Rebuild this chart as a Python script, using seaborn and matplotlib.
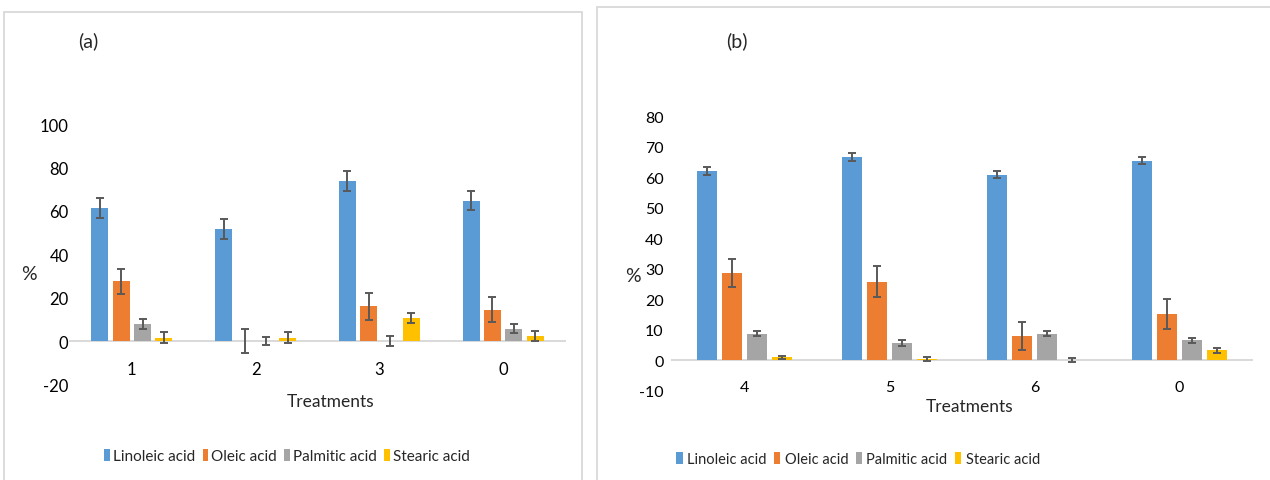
import matplotlib
matplotlib.use("Agg")
import matplotlib.pyplot as plt
from matplotlib.patches import Patch, Rectangle
import pandas as pd
import seaborn as sns

# ---- data ----
acids = ["Linoleic acid", "Oleic acid", "Palmitic acid", "Stearic acid"]
colors = ["#5B9BD5", "#ED7D31", "#A5A5A5", "#FFC000"]

treatments_a = ["1", "2", "3", "0"]
linoleic_a = [61.3, 51.6, 73.9, 64.7]
oleic_a = [27.6, 0.0, 16.0, 14.6]
palmitic_a = [7.9, 0.0, 0.0, 5.8]
stearic_a = [1.6, 1.6, 10.7, 2.5]
linoleic_a_err = [4.5, 4.6, 4.6, 4.4]
oleic_a_err = [5.7, 5.6, 6.0, 5.7]
palmitic_a_err = [2.2, 1.8, 2.3, 2.1]
stearic_a_err = [2.5, 2.5, 2.1, 2.4]

treatments_b = ["4", "5", "6", "0"]
linoleic_b = [62.2, 66.7, 60.9, 65.5]
oleic_b = [28.7, 25.8, 7.9, 15.1]
palmitic_b = [8.7, 5.7, 8.7, 6.5]
stearic_b = [0.9, 0.4, 0.1, 3.2]
linoleic_b_err = [1.3, 1.3, 1.3, 1.3]
oleic_b_err = [4.6, 5.0, 4.7, 4.9]
palmitic_b_err = [0.8, 0.9, 0.9, 0.9]
stearic_b_err = [0.6, 0.6, 0.7, 0.7]

sns.set_style("white")
plt.rcParams["font.family"] = ["Lato", "DejaVu Sans"]

W, H = 1270, 481
fig = plt.figure(figsize=(W / 100, H / 100), dpi=100)


def frac_rect(x0, y0, x1, y1):
    """Pixel box (top-left origin) -> figure fraction rect."""
    return [x0 / W, 1 - y1 / H, (x1 - x0) / W, (y1 - y0) / H]


# panel frames
for x0, y0 in [(4, 12.5), (597, 8)]:
    x1 = 582 if x0 < 100 else W + 10
    fig.patches.append(Rectangle((x0 / W, -0.05), (x1 - x0) / W, 1.05 - y0 / H,
                                 transform=fig.transFigure, fill=False,
                                 edgecolor="#d9d9d9", linewidth=1.3, zorder=0))


def panel(rect, cats, series, errs, ylim, yticks, width, gap, fs, ypad):
    ax = fig.add_axes(rect)
    rows = []
    for acid, vals in zip(acids, series):
        for c, v in zip(cats, vals):
            rows.append({"Treatment": c, "Acid": acid, "Value": v})
    df = pd.DataFrame(rows)
    sns.barplot(data=df, x="Treatment", y="Value", hue="Acid", order=cats,
                hue_order=acids, palette=colors, errorbar=None, width=width,
                gap=gap, legend=False, ax=ax, linewidth=0, saturation=1)
    for cont, e in zip(ax.containers, errs):
        xs = [b.get_x() + b.get_width() / 2 for b in cont]
        ys = [b.get_height() for b in cont]
        ax.errorbar(xs, ys, yerr=e, fmt="none", ecolor="#595959",
                    elinewidth=1.4, capsize=3.2, capthick=1.4, zorder=5)
    ax.set_ylim(*ylim)
    ax.set_xlim(-0.5, len(cats) - 0.5)
    ax.set_yticks(yticks)
    ax.set_yticklabels([str(t) for t in yticks])
    for s in ["top", "right", "left"]:
        ax.spines[s].set_visible(False)
    ax.spines["bottom"].set_position(("data", 0))
    ax.spines["bottom"].set_color("#d9d9d9")
    ax.spines["bottom"].set_linewidth(1.4)
    ax.spines["bottom"].set_zorder(0.5)
    ax.tick_params(axis="x", length=0, pad=14, labelsize=fs, colors="#000000")
    ax.tick_params(axis="y", length=0, pad=ypad, labelsize=fs, colors="#000000")
    ax.set_xlabel("")
    ax.set_ylabel("")
    ax.set_facecolor("none")
    return ax


ax_a = panel(frac_rect(70, 125, 565, 385.7), treatments_a,
             [linoleic_a, oleic_a, palmitic_a, stearic_a],
             [linoleic_a_err, oleic_a_err, palmitic_a_err, stearic_a_err],
             (-20, 100), list(range(-20, 101, 20)), 0.69, 0.2, 12, 1)

ax_b = panel(frac_rect(672, 117.3, 1252, 391.7), treatments_b,
             [linoleic_b, oleic_b, palmitic_b, stearic_b],
             [linoleic_b_err, oleic_b_err, palmitic_b_err, stearic_b_err],
             (-10, 80), list(range(-10, 81, 10)), 0.69, 0.18, 11.5, 6)


def ftext(x, y, s, size, **kw):
    fig.text(x / W, 1 - y / H, s, fontsize=size, ha="center", va="center", **kw)


ftext(88.5, 41, "(a)", 14)
ftext(736.5, 41.5, "(b)", 14)
ftext(29, 275, "%", 14)
ftext(633, 276, "%", 14)
ftext(331, 402, "Treatments", 12.5)
ftext(969.5, 407, "Treatments", 12.5)

handles = [Patch(facecolor=c, edgecolor="none") for c in colors]
fig.legend(handles, acids, loc="center", bbox_to_anchor=(287 / W, 1 - 457 / H),
           ncol=4, frameon=False, fontsize=11, handlelength=0.35,
           handleheight=0.9, handletextpad=0.2, columnspacing=0.5)
fig.legend(handles, acids, loc="center", bbox_to_anchor=(858 / W, 1 - 460 / H),
           ncol=4, frameon=False, fontsize=10.5, handlelength=0.45,
           handleheight=0.9, handletextpad=0.3, columnspacing=0.5)

fig.savefig("out.png", dpi=100, facecolor="white")
